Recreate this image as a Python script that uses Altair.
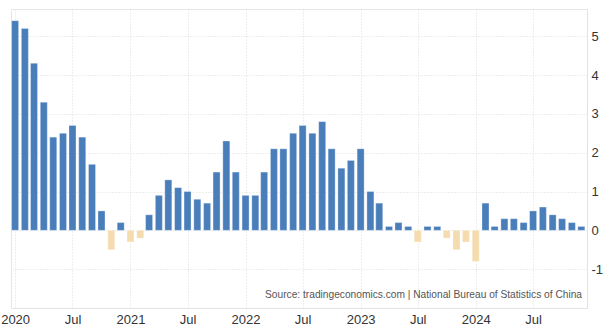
import altair as alt
import pandas as pd

months = [f"{y}-{m:02d}-01" for y in range(2020, 2025) for m in range(1, 13)]
values = [
    5.4, 5.2, 4.3, 3.3, 2.4, 2.5, 2.7, 2.4, 1.7, 0.5, -0.5, 0.2,
    -0.3, -0.2, 0.4, 0.9, 1.3, 1.1, 1.0, 0.8, 0.7, 1.5, 2.3, 1.5,
    0.9, 0.9, 1.5, 2.1, 2.1, 2.5, 2.7, 2.5, 2.8, 2.1, 1.6, 1.8,
    2.1, 1.0, 0.7, 0.1, 0.2, 0.1, -0.3, 0.1, 0.1, -0.2, -0.5, -0.3,
    -0.8, 0.7, 0.1, 0.3, 0.3, 0.2, 0.5, 0.6, 0.4, 0.3, 0.2, 0.1,
]
y_ticks = [-1, 0, 1, 2, 3, 4, 5]
x_tick_dates = [(y, m) for y in range(2020, 2025) for m in (1, 7)]
source_text = "Source: tradingeconomics.com | National Bureau of Statistics of China"

df = pd.DataFrame({"date": months, "value": values})
df["sign"] = ["pos" if v >= 0 else "neg" for v in values]

FONT = "Liberation Sans"

bars = alt.Chart(df).mark_bar(size=7, stroke="white", strokeWidth=0.6, strokeOpacity=0.5).encode(
    x=alt.X(
        "date:T",
        scale=alt.Scale(
            type="utc",
            padding=0,
            domain=[
                alt.DateTime(year=2019, month=12, date=19, utc=True),
                alt.DateTime(year=2024, month=12, date=19, utc=True),
            ],
        ),
        axis=alt.Axis(
            title=None,
            values=[alt.DateTime(year=y, month=m, date=1, utc=True) for y, m in x_tick_dates],
            labelExpr="utcFormat(datum.value, '%m') == '01' ? utcFormat(datum.value, '%Y') : 'Jul'",
            grid=True,
            gridColor="#dcdcdc",
            gridDash=[1, 2],
            ticks=False,
            labelPadding=5,
            labelFontSize=13,
            labelColor="#333333",
            labelFont=FONT,
            domain=True,
            domainColor="#e3e3e3",
            labelFlush=False,
        ),
    ),
    y=alt.Y(
        "value:Q",
        scale=alt.Scale(domain=[-2, 5.7], nice=False, zero=False),
        axis=alt.Axis(
            title=None,
            orient="right",
            values=y_ticks,
            labelExpr="datum.value < 0 ? '-' + abs(datum.value) : '' + datum.value",
            grid=True,
            gridColor="#dcdcdc",
            gridDash=[1, 2],
            ticks=False,
            labelPadding=4,
            labelFontSize=13,
            labelColor="#333333",
            labelFont=FONT,
            domain=True,
            domainColor="#e3e3e3",
        ),
    ),
    color=alt.Color(
        "sign:N",
        scale=alt.Scale(domain=["pos", "neg"], range=["#4a7ebb", "#f5dcae"]),
        legend=None,
    ),
)

src = alt.Chart(pd.DataFrame({"t": [source_text]})).mark_text(
    align="right", baseline="alphabetic", fontSize=10.2, color="#555555", font=FONT
).encode(text="t:N", x=alt.value(571), y=alt.value(289))

chart = (
    alt.layer(bars, src)
    .properties(
        width=576,
        height=299,
        autosize=alt.AutoSizeParams(type="none"),
        padding={"left": 11, "top": 9, "right": 18, "bottom": 20},
        background="white",
    )
    .configure_view(stroke="#e6e6e6", strokeWidth=1)
)

chart.save("out.html", embed_options={"renderer": "svg", "actions": False})
